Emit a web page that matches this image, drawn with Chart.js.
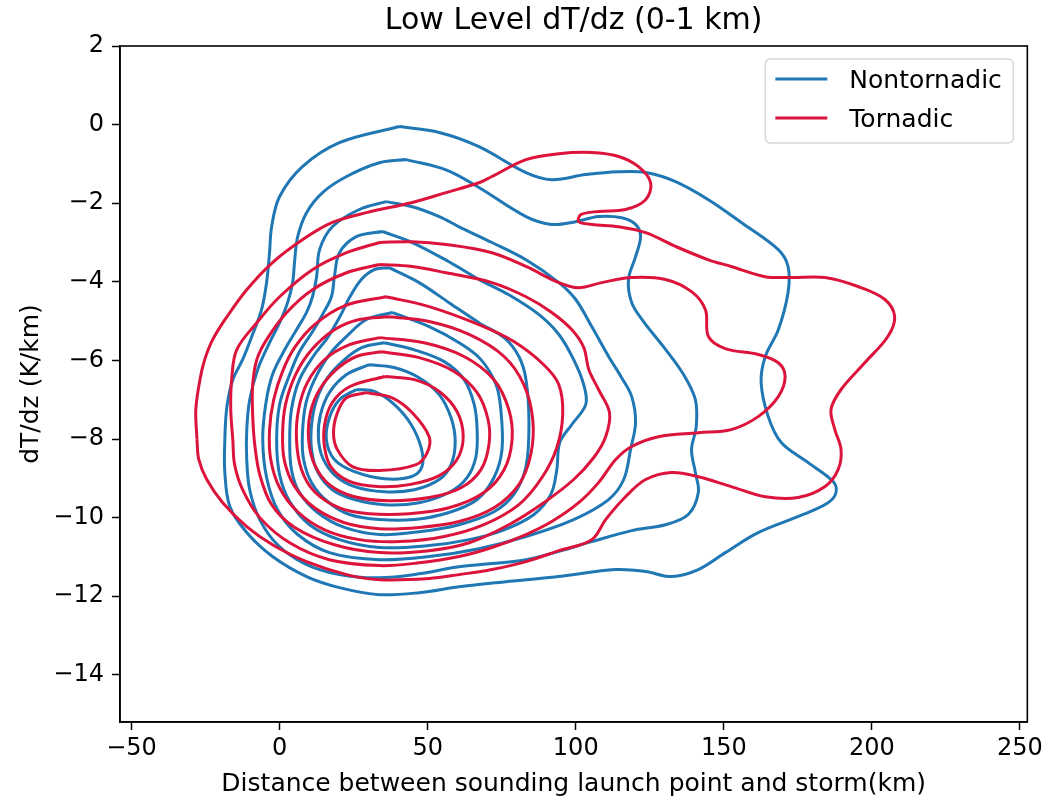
<!DOCTYPE html>
<html>
<head>
<meta charset="utf-8">
<title>Low Level dT/dz (0-1 km)</title>
<script src="https://cdn.jsdelivr.net/npm/chart.js@4.4.1/dist/chart.umd.min.js"></script>
<style>
    html, body { margin: 0; padding: 0; background: #ffffff; }
    canvas { display: block; }
</style>
</head>
<body>
<canvas id="kdeChart" width="1047" height="802"></canvas>
<script>
// contour lines, [distance km, dT/dz K/km], outermost level first
var ntLevel1 = [[40.4,-0.05],[53.9,-0.20],[67.3,-0.56],[83.2,-1.22],[91.9,-1.40],[103.4,-1.27],[114.5,-1.20],[123.6,-1.22],[133.7,-1.45],[144.8,-1.91],[155.9,-2.49],[168.4,-3.18],[171.7,-3.61],[171.7,-4.27],[168.4,-5.22],[164.0,-5.90],[162.6,-6.56],[165.0,-7.43],[169.4,-8.09],[178.5,-8.60],[186.9,-9.08],[187.9,-9.36],[185.2,-9.62],[176.8,-9.92],[161.6,-10.38],[150.5,-10.89],[141.4,-11.32],[132.3,-11.50],[123.6,-11.37],[113.5,-11.32],[94.3,-11.50],[74.1,-11.65],[60.6,-11.76],[47.1,-11.91],[33.7,-11.96],[20.2,-11.78],[9.1,-11.50],[-2.4,-10.99],[-11.1,-10.38],[-16.8,-9.72],[-18.5,-8.85],[-18.5,-8.02],[-17.8,-7.18],[-15.8,-6.49],[-12.5,-5.98],[-9.4,-5.39],[-6.1,-4.71],[-4.4,-4.02],[-3.4,-3.26],[-2.7,-2.60],[0,-1.83],[7.7,-1.07],[20.2,-0.46],[40.4,-0.05]];
var ntLevel2 = [[42.8,-0.89],[56.2,-1.15],[67.3,-1.60],[83.2,-2.34],[91.9,-2.54],[100.0,-2.47],[107.7,-2.34],[115.5,-2.37],[120.2,-2.54],[121.9,-2.85],[120.2,-3.36],[117.8,-3.94],[118.9,-4.53],[122.9,-5.01],[129.6,-5.65],[136.4,-6.36],[140.4,-7.00],[140.7,-7.68],[139.1,-8.27],[140.4,-8.85],[141.4,-9.36],[138.0,-9.92],[130.3,-10.18],[118.9,-10.33],[105.4,-10.61],[94.3,-10.86],[83.2,-11.07],[71.7,-11.17],[60.6,-11.25],[47.1,-11.43],[33.7,-11.53],[20.2,-11.45],[8.4,-11.17],[-0.7,-10.69],[-6.7,-10.05],[-10.1,-9.29],[-11.1,-8.52],[-11.1,-7.76],[-10.1,-7.00],[-7.4,-6.23],[-3.4,-5.55],[0,-5.04],[2.7,-4.53],[4.4,-4.02],[5.1,-3.44],[6.1,-2.85],[9.1,-2.24],[14.5,-1.73],[22.6,-1.32],[33.7,-0.97],[42.8,-0.89]];
var ntLevel3 = [[36.0,-1.96],[44.8,-2.09],[53.9,-2.34],[60.6,-2.60],[71.7,-3.00],[83.2,-3.44],[94.3,-4.02],[100.0,-4.45],[105.4,-5.14],[111.1,-5.90],[115.5,-6.44],[118.9,-6.92],[120.2,-7.58],[118.5,-8.27],[116.2,-9.03],[111.1,-9.54],[99.3,-10.05],[83.2,-10.48],[67.3,-10.79],[50.5,-10.99],[33.7,-11.07],[16.8,-10.89],[6.1,-10.43],[-0.7,-9.80],[-4.4,-8.98],[-5.7,-8.02],[-4.7,-7.12],[-2.4,-6.36],[1.7,-5.73],[5.7,-5.22],[9.1,-4.78],[11.1,-4.38],[12.5,-3.87],[13.5,-3.18],[17.8,-2.60],[26.9,-2.16],[36.0,-1.96]];
var ntLevel4 = [[34.7,-2.72],[44.8,-3.00],[57.2,-3.49],[67.3,-3.94],[77.4,-4.33],[87.5,-4.83],[94.3,-5.34],[99.3,-5.98],[102.7,-6.62],[103.4,-7.12],[98.7,-7.63],[94.6,-8.09],[93.6,-8.78],[91.6,-9.41],[85.9,-9.92],[75.8,-10.31],[64.0,-10.56],[50.5,-10.71],[33.7,-10.76],[20.2,-10.56],[10.1,-10.18],[3.4,-9.59],[0,-8.91],[-1.0,-8.02],[0,-7.12],[3.4,-6.36],[6.7,-5.78],[11.1,-5.27],[14.5,-4.83],[17.5,-4.38],[18.5,-3.87],[20.2,-3.26],[25.9,-2.85],[34.7,-2.72]];
var ntLevel5 = [[37.0,-3.64],[47.1,-4.02],[57.2,-4.53],[67.3,-5.04],[75.8,-5.42],[80.8,-5.90],[83.2,-6.49],[84.2,-7.58],[83.2,-8.70],[79.1,-9.41],[72.4,-9.85],[60.6,-10.18],[47.1,-10.36],[33.7,-10.43],[21.9,-10.25],[12.8,-9.87],[6.7,-9.36],[4.0,-8.78],[3.4,-8.02],[4.0,-7.25],[6.7,-6.49],[11.8,-5.85],[16.2,-5.42],[20.2,-4.91],[23.6,-4.40],[27.6,-3.94],[32.0,-3.69],[37.0,-3.64]];
var ntLevel6 = [[38.0,-4.78],[50.5,-5.14],[60.6,-5.55],[68.0,-5.98],[73.1,-6.62],[74.7,-7.25],[75.1,-8.27],[72.4,-8.98],[66.7,-9.54],[57.2,-9.87],[45.5,-10.05],[33.7,-10.05],[23.6,-9.92],[16.2,-9.59],[10.8,-9.11],[8.1,-8.52],[7.7,-7.89],[8.8,-7.12],[11.8,-6.49],[16.8,-5.85],[22.6,-5.39],[29.3,-4.96],[38.0,-4.78]];
var ntLevel7 = [[35.4,-5.55],[45.5,-5.73],[55.6,-6.03],[62.3,-6.49],[65.7,-7.12],[66.7,-7.76],[66.3,-8.45],[63.3,-8.98],[57.2,-9.36],[47.1,-9.62],[35.4,-9.67],[25.3,-9.54],[17.8,-9.29],[12.8,-8.83],[10.8,-8.27],[10.8,-7.63],[12.5,-7.00],[16.2,-6.44],[21.9,-5.98],[27.9,-5.67],[35.4,-5.55]];
var ntLevel8 = [[30.3,-6.11],[38.7,-6.18],[47.1,-6.44],[53.9,-6.87],[57.9,-7.46],[59.3,-8.07],[57.9,-8.65],[53.9,-9.03],[45.5,-9.29],[35.4,-9.34],[25.3,-9.21],[18.5,-8.91],[14.5,-8.47],[13.1,-7.96],[13.8,-7.38],[16.8,-6.82],[22.6,-6.36],[30.3,-6.11]];
var ntLevel9 = [[25.9,-6.74],[32.0,-6.79],[38.7,-7.12],[44.4,-7.63],[47.8,-8.22],[48.1,-8.70],[44.4,-8.96],[35.4,-9.01],[25.3,-8.83],[18.5,-8.52],[15.8,-8.02],[16.8,-7.46],[20.2,-7.00],[25.9,-6.74]];

var tLevel1 = [[-27.9,-8.02],[-28.3,-7.25],[-26.9,-6.49],[-25.3,-5.98],[-22.6,-5.47],[-17.8,-4.89],[-11.1,-4.20],[-2.4,-3.51],[7.7,-2.93],[17.8,-2.49],[29.3,-2.24],[44.8,-1.98],[56.2,-1.73],[67.3,-1.48],[71.7,-1.32],[83.2,-0.89],[94.3,-0.74],[105.4,-0.71],[114.5,-0.81],[121.2,-1.07],[125.3,-1.48],[123.6,-1.91],[116.8,-2.16],[107.7,-2.21],[101.7,-2.29],[101.0,-2.47],[105.4,-2.54],[114.5,-2.60],[123.6,-2.75],[133.7,-3.10],[144.8,-3.44],[152.5,-3.61],[164.0,-3.87],[172.7,-3.89],[184.2,-3.89],[195.3,-4.12],[204.4,-4.45],[207.7,-4.89],[205.4,-5.39],[197.6,-6.06],[189.6,-6.74],[186.2,-7.25],[187.5,-7.76],[189.6,-8.27],[188.6,-8.78],[184.2,-9.21],[175.1,-9.49],[164.0,-9.47],[152.5,-9.21],[141.4,-8.96],[132.3,-8.85],[123.6,-9.03],[116.8,-9.47],[110.1,-10.05],[105.4,-10.56],[94.3,-10.84],[83.2,-11.12],[71.7,-11.32],[60.6,-11.45],[50.5,-11.55],[33.7,-11.58],[22.6,-11.45],[9.1,-11.12],[-2.4,-10.69],[-11.1,-10.23],[-19.2,-9.62],[-24.6,-9.03],[-27.3,-8.52],[-27.9,-8.02]];
var tLevel2 = [[33.7,-3.00],[44.8,-2.98],[56.2,-3.05],[71.7,-3.26],[83.2,-3.61],[94.3,-4.02],[101.0,-4.15],[108.8,-4.02],[118.9,-3.89],[130.3,-3.94],[139.1,-4.25],[143.8,-4.71],[144.8,-5.39],[150.5,-5.70],[161.6,-5.85],[168.4,-6.06],[170.7,-6.41],[168.4,-6.92],[161.6,-7.43],[152.5,-7.76],[141.4,-7.84],[127.9,-7.94],[118.9,-8.19],[113.5,-8.52],[107.7,-9.11],[101.0,-9.62],[91.9,-10.10],[83.2,-10.43],[71.7,-10.76],[60.6,-10.99],[47.1,-11.15],[33.7,-11.22],[16.8,-11.07],[3.4,-10.64],[-6.7,-10.00],[-12.5,-9.29],[-15.2,-8.65],[-15.8,-8.02],[-16.5,-7.25],[-16.2,-6.49],[-14.5,-5.73],[-7.7,-5.04],[0,-4.38],[11.1,-3.69],[22.6,-3.26],[33.7,-3.00]];
var tLevel3 = [[33.7,-3.56],[44.8,-3.61],[56.2,-3.77],[71.7,-4.02],[83.2,-4.38],[91.9,-4.78],[98.7,-5.22],[102.7,-5.67],[104.4,-6.23],[107.7,-6.74],[111.4,-7.33],[110.1,-7.94],[106.1,-8.47],[99.3,-9.03],[89.2,-9.62],[77.4,-10.18],[64.0,-10.64],[50.5,-10.84],[33.7,-10.89],[18.5,-10.69],[5.1,-10.25],[-2.7,-9.67],[-6.7,-8.91],[-8.4,-8.14],[-9.1,-7.38],[-9.1,-6.62],[-7.7,-5.98],[-4.4,-5.47],[2.4,-4.78],[11.1,-4.20],[22.6,-3.77],[33.7,-3.56]];
var tLevel4 = [[36.0,-4.38],[50.5,-4.63],[67.3,-5.09],[79.1,-5.52],[89.2,-6.11],[94.3,-6.62],[95.6,-7.38],[93.6,-8.22],[88.6,-8.98],[80.8,-9.67],[69.0,-10.18],[55.6,-10.48],[40.4,-10.61],[26.9,-10.56],[15.2,-10.31],[6.1,-9.85],[0,-9.24],[-3.0,-8.52],[-3.4,-7.76],[-2.0,-7.00],[1.0,-6.28],[5.1,-5.67],[11.8,-5.09],[21.9,-4.61],[36.0,-4.38]];
var tLevel5 = [[37.0,-4.89],[50.5,-5.01],[64.0,-5.34],[75.8,-5.90],[82.5,-6.62],[85.5,-7.51],[84.8,-8.40],[80.8,-9.16],[72.4,-9.75],[60.6,-10.10],[47.1,-10.25],[33.7,-10.28],[21.9,-10.13],[11.8,-9.75],[5.1,-9.21],[1.7,-8.58],[1.0,-7.89],[2.0,-7.12],[5.4,-6.36],[10.8,-5.73],[18.5,-5.22],[26.9,-4.96],[37.0,-4.89]];
var tLevel6 = [[33.7,-5.42],[48.8,-5.55],[62.3,-5.90],[72.4,-6.49],[77.4,-7.25],[78.5,-8.02],[75.8,-8.78],[69.0,-9.36],[57.2,-9.75],[43.8,-9.90],[30.3,-9.90],[20.2,-9.75],[11.8,-9.34],[7.4,-8.78],[5.7,-8.02],[6.4,-7.25],[9.4,-6.56],[15.2,-5.98],[23.6,-5.60],[33.7,-5.42]];
var tLevel7 = [[34.3,-5.78],[47.1,-5.93],[58.9,-6.28],[66.7,-6.82],[70.4,-7.51],[70.7,-8.14],[68.0,-8.78],[61.3,-9.24],[50.5,-9.49],[37.0,-9.57],[25.3,-9.47],[16.8,-9.16],[11.8,-8.65],[9.8,-8.02],[10.4,-7.33],[13.5,-6.74],[19.2,-6.23],[25.9,-5.90],[34.3,-5.78]];
var tLevel8 = [[35.4,-6.41],[45.5,-6.49],[53.9,-6.79],[59.9,-7.30],[62.0,-7.94],[59.9,-8.52],[53.9,-8.93],[43.8,-9.16],[33.0,-9.21],[23.6,-9.08],[17.5,-8.73],[15.2,-8.22],[15.2,-7.63],[17.8,-7.07],[23.6,-6.67],[35.4,-6.41]];
var tLevel9 = [[29.3,-6.82],[38.0,-6.95],[44.8,-7.33],[50.5,-7.94],[49.8,-8.35],[46.1,-8.65],[33.7,-8.80],[24.6,-8.70],[19.5,-8.27],[18.2,-7.84],[19.5,-7.33],[22.6,-6.95],[29.3,-6.82]];

var seriesNames = ["Nontornadic", "Tornadic"];
var nontornadicLevels = [ntLevel1, ntLevel2, ntLevel3, ntLevel4, ntLevel5, ntLevel6, ntLevel7, ntLevel8, ntLevel9];
var tornadicLevels = [tLevel1, tLevel2, tLevel3, tLevel4, tLevel5, tLevel6, tLevel7, tLevel8, tLevel9];
var xTicks = [-50, 0, 50, 100, 150, 200, 250];
var yTicks = [2, 0, -2, -4, -6, -8, -10, -12, -14];
var xRange = [-53.9, 252.5];
var yRange = [-15.2, 2.0];

document.addEventListener("DOMContentLoaded", function () {
    var blue = "#1f77b4";
    var red = "#dc143c";
    var fontFamily = "'DejaVu Sans', sans-serif";

    function contour(points, name, color, order) {
        return {
            label: name,
            data: points.map(function (p) { return { x: p[0], y: p[1] }; }),
            borderColor: color,
            borderWidth: 3,
            pointRadius: 0,
            pointHoverRadius: 0,
            showLine: true,
            fill: false,
            tension: 0.35,
            order: order,
        };
    }

    var datasets = [];
    tornadicLevels.forEach(function (lvl) { datasets.push(contour(lvl, seriesNames[1], red, 0)); });
    nontornadicLevels.forEach(function (lvl) { datasets.push(contour(lvl, seriesNames[0], blue, 1)); });

    function minusLabel(value) {
        return value < 0 ? "\u2212" + Math.abs(value) : String(value);
    }

    // matplotlib-style box around the axes
    var frame = {
        id: "frame",
        afterDatasetsDraw: function (chart) {
            var a = chart.chartArea, ctx = chart.ctx;
            ctx.save();
            ctx.strokeStyle = "#000";
            ctx.lineWidth = 1.6;
            ctx.strokeRect(a.left, a.top, a.right - a.left, a.bottom - a.top);
            ctx.restore();
        },
    };

    // legend inside the upper right corner of the axes
    var insideLegend = {
        id: "insideLegend",
        afterDraw: function (chart) {
            var a = chart.chartArea, ctx = chart.ctx;
            var w = 248, h = 84;
            var x = a.right - 14 - w, y = a.top + 13;
            ctx.save();
            ctx.beginPath();
            if (ctx.roundRect) { ctx.roundRect(x, y, w, h, 5); } else { ctx.rect(x, y, w, h); }
            ctx.fillStyle = "rgba(255,255,255,0.8)";
            ctx.fill();
            ctx.strokeStyle = "#d6d6d6";
            ctx.lineWidth = 1.5;
            ctx.stroke();
            var colors = [blue, red];
            ctx.font = "25px " + fontFamily;
            ctx.textBaseline = "middle";
            ctx.textAlign = "left";
            for (var i = 0; i < seriesNames.length; i++) {
                var cy = y + 20 + i * 39;
                ctx.strokeStyle = colors[i];
                ctx.lineWidth = 3;
                ctx.beginPath();
                ctx.moveTo(x + 10, cy);
                ctx.lineTo(x + 62, cy);
                ctx.stroke();
                ctx.fillStyle = "#000";
                ctx.fillText(seriesNames[i], x + 84, cy + 2);
            }
            ctx.restore();
        },
    };

    var ctx = document.getElementById("kdeChart").getContext("2d");
    var kdeChart = new Chart(ctx, {
        type: "scatter",
        data: { datasets: datasets },
        plugins: [frame, insideLegend],
        options: {
            responsive: false,
            animation: false,
            layout: { padding: { left: 0, right: 17, top: 0, bottom: 0 } },
            scales: {
                x: {
                    type: "linear",
                    min: xRange[0],
                    max: xRange[1],
                    afterBuildTicks: function (axis) {
                        axis.ticks = xTicks.map(function (v) { return { value: v }; });
                    },
                    afterFit: function (axis) { axis.height = 80; },
                    grid: {
                        display: true,
                        drawOnChartArea: false,
                        drawTicks: true,
                        tickLength: 8,
                        tickColor: "#000",
                        tickWidth: 1.5,
                    },
                    border: { display: true, color: "#000", width: 1.6 },
                    ticks: {
                        color: "#000",
                        padding: 4,
                        maxRotation: 0,
                        autoSkip: false,
                        font: { family: fontFamily, size: 24 },
                        callback: minusLabel,
                    },
                    title: {
                        display: true,
                        text: "Distance between sounding launch point and storm(km)",
                        color: "#000",
                        font: { family: fontFamily, size: 25 },
                        padding: { top: 0, bottom: 3 },
                    },
                },
                y: {
                    type: "linear",
                    min: yRange[0],
                    max: yRange[1],
                    afterBuildTicks: function (axis) {
                        axis.ticks = yTicks.map(function (v) { return { value: v }; });
                    },
                    afterFit: function (axis) { axis.width = 120; },
                    grid: {
                        display: true,
                        drawOnChartArea: false,
                        drawTicks: true,
                        tickLength: 8,
                        tickColor: "#000",
                        tickWidth: 1.5,
                    },
                    border: { display: true, color: "#000", width: 1.6 },
                    ticks: {
                        color: "#000",
                        padding: 8,
                        autoSkip: false,
                        font: { family: fontFamily, size: 24 },
                        callback: minusLabel,
                    },
                    title: {
                        display: true,
                        text: "dT/dz (K/km)",
                        color: "#000",
                        font: { family: fontFamily, size: 25 },
                        padding: { top: 16, bottom: 0 },
                    },
                },
            },
            plugins: {
                legend: { display: false },
                tooltip: { enabled: false },
                title: {
                    display: true,
                    fullSize: false,
                    text: "Low Level dT/dz (0-1 km)",
                    color: "#000",
                    font: { family: fontFamily, size: 30, weight: "normal" },
                    padding: { top: 3, bottom: 7 },
                },
            },
        },
    });
});
</script>
</body>
</html>
